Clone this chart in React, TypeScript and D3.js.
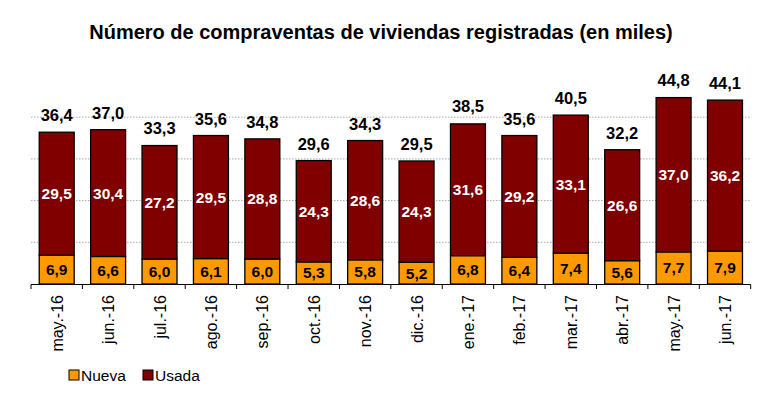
import React from "react";
import * as d3 from "d3";

const months = ["may.-16", "jun.-16", "jul.-16", "ago.-16", "sep.-16", "oct.-16", "nov.-16", "dic.-16", "ene.-17", "feb.-17", "mar.-17", "abr.-17", "may.-17", "jun.-17"];
const nueva = [6.9, 6.6, 6.0, 6.1, 6.0, 5.3, 5.8, 5.2, 6.8, 6.4, 7.4, 5.6, 7.7, 7.9];
const usada = [29.5, 30.4, 27.2, 29.5, 28.8, 24.3, 28.6, 24.3, 31.6, 29.2, 33.1, 26.6, 37.0, 36.2];
const totals = [36.4, 37.0, 33.3, 35.6, 34.8, 29.6, 34.3, 29.5, 38.5, 35.6, 40.5, 32.2, 44.8, 44.1];
const gridTicks = [10, 20, 30, 40];

const W = 774;
const H = 399;
const fmt = (v: number) => v.toFixed(1).replace(".", ",");
const font = "'Liberation Sans', Arial, sans-serif";

export default function App() {
  const x = d3.scaleBand<string>().domain(months).range([31, 750.7]).paddingInner(0.32).paddingOuter(0.16);
  const y = d3.scaleLinear().domain([0, 50]).range([284, 75.5]);

  return (
    <svg width={W} height={H} style={{ position: "absolute", left: 0, top: 0, fontFamily: font }}>
      <rect width={W} height={H} fill="#fff" />
      <text x={381} y={39} textAnchor="middle" fontSize={20} fontWeight="bold">
        Número de compraventas de viviendas registradas (en miles)
      </text>
      {gridTicks.map((t) => (
        <line key={t} x1={31} x2={750.7} y1={y(t)} y2={y(t)} stroke="#aaa" strokeWidth={1} strokeDasharray="1.5,1.5" />
      ))}
      {months.map((m, i) => {
        const bx = x(m)!;
        const bw = x.bandwidth();
        const cx = bx + bw / 2;
        const yN = y(nueva[i]);
        const yU = y(nueva[i] + usada[i]);
        return (
          <g key={m}>
            <rect x={bx} y={yN} width={bw} height={y(0) - yN} fill="#FF9900" stroke="#000" strokeWidth={1.3} />
            <rect x={bx} y={yU} width={bw} height={yN - yU} fill="#800000" stroke="#000" strokeWidth={1.3} />
            <text x={cx} y={(yN + y(0)) / 2 + 5.5} textAnchor="middle" fontSize={15.5} fontWeight="bold" fill="#000">{fmt(nueva[i])}</text>
            <text x={cx} y={(yU + yN) / 2 + 5.5} textAnchor="middle" fontSize={15.5} fontWeight="bold" fill="#fff">{fmt(usada[i])}</text>
            <text x={cx} y={y(totals[i]) - 11} textAnchor="middle" fontSize={16.5} fontWeight="bold" fill="#000">{fmt(totals[i])}</text>
          </g>
        );
      })}
      <line x1={31} x2={750.7} y1={284.5} y2={284.5} stroke="#000" strokeWidth={1.2} />
      {d3.range(months.length + 1).map((k) => {
        const tx = 31 + k * x.step();
        return <line key={k} x1={tx} x2={tx} y1={284.5} y2={289} stroke="#000" strokeWidth={1} />;
      })}
      {months.map((m) => {
        const cx = x(m)! + x.bandwidth() / 2;
        return (
          <text key={m} transform={`translate(${cx + 6},${295}) rotate(-90)`} textAnchor="end" fontSize={16} fill="#000">
            {m}
          </text>
        );
      })}
      <rect x={69} y={370} width={10} height={10} fill="#FF9900" stroke="#000" strokeWidth={1} />
      <text x={81} y={381} fontSize={15.5}>Nueva</text>
      <rect x={143} y={370} width={10} height={10} fill="#800000" stroke="#000" strokeWidth={1} />
      <text x={155} y={381} fontSize={15.5}>Usada</text>
    </svg>
  );
}
